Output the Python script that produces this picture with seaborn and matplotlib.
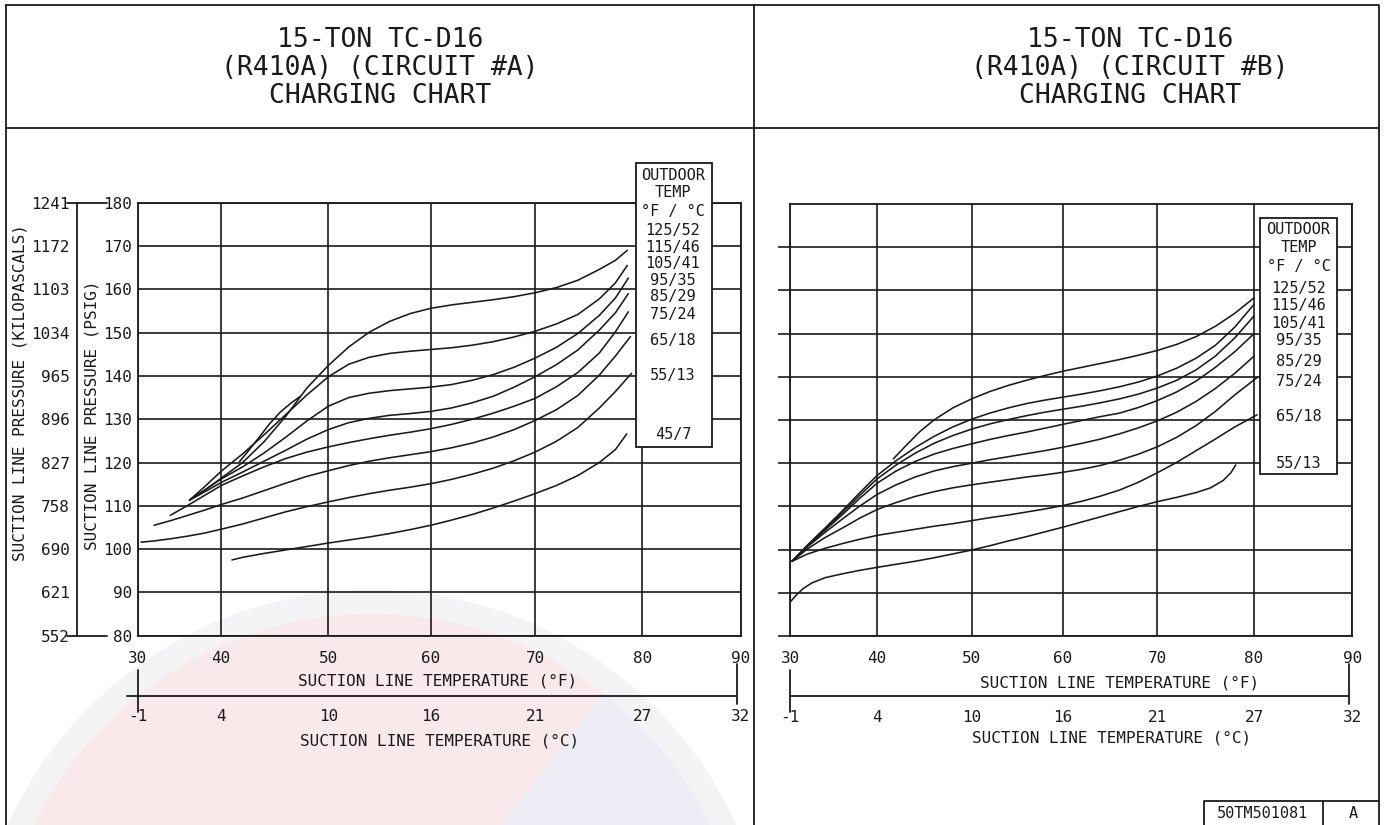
import numpy as np
import pandas as pd
import matplotlib
matplotlib.use("Agg")
import matplotlib.pyplot as plt
from matplotlib.patches import Rectangle, Ellipse, Wedge
from matplotlib.lines import Line2D
from matplotlib.transforms import IdentityTransform
import seaborn as sns

# ---------------- chart values ----------------
temp_f_ticks = [30, 40, 50, 60, 70, 80, 90]
temp_c_labels = ["-1", "4", "10", "16", "21", "27", "32"]
psig_ticks = [80, 90, 100, 110, 120, 130, 140, 150, 160, 170, 180]
kpa_labels = ["552", "621", "690", "758", "827", "896", "965",
              "1034", "1103", "1172", "1241"]

outdoor_a = ["125/52", "115/46", "105/41", "95/35", "85/29", "75/24",
             "65/18", "55/13", "45/7"]
outdoor_b = ["125/52", "115/46", "105/41", "95/35", "85/29", "75/24",
             "65/18", "55/13"]

# Circuit A curves (suction line temp F, suction pressure psig)
a_125_temp = [41.7, 42.5, 43.5, 44.5, 45.5, 46.5, 47.4]
a_125_psig = [120.2, 122.6, 125.7, 128.9, 131.6, 133.7, 135.3]
a_115_temp = [36.2, 38, 40, 42, 44, 46, 48, 50, 52, 54, 56, 58, 60, 62, 64, 66, 68, 70, 72, 74, 76, 77.5, 78.6]
a_115_psig = [111.3, 113.6, 116.4, 120.0, 124.8, 130.6, 137.2, 142.4, 146.7, 150.1, 152.6, 154.4,
              155.6, 156.4, 157.0, 157.6, 158.3, 159.2, 160.4, 162.1, 164.6, 166.7, 169.0]
a_105_temp = [36.2, 38, 40, 42, 44, 46, 48, 50, 52, 54, 56, 58, 60, 62, 64, 66, 68, 70, 72, 74, 76, 77.5, 78.6]
a_105_psig = [111.3, 114.4, 118.0, 122.0, 126.4, 131.0, 135.6, 139.8, 142.7, 144.3, 145.2, 145.7,
              146.1, 146.5, 147.1, 147.9, 149.0, 150.3, 152.0, 154.2, 157.8, 161.5, 165.5]
a_95_temp = [36.2, 38, 40, 42, 44, 46, 48, 50, 52, 54, 56, 58, 60, 62, 64, 66, 68, 70, 72, 74, 76, 77.5, 78.7]
a_95_psig = [111.3, 113.6, 116.2, 119.0, 122.2, 125.8, 129.6, 133.0, 135.0, 136.0, 136.6, 137.0,
             137.4, 138.0, 139.0, 140.3, 142.0, 144.1, 146.6, 149.8, 154.0, 158.0, 162.6]
a_85_temp = [36.2, 38, 40, 42, 44, 46, 48, 50, 52, 54, 56, 58, 60, 62, 64, 66, 68, 70, 72, 74, 76, 77.5, 78.7]
a_85_psig = [111.3, 113.2, 115.4, 117.8, 120.3, 122.8, 125.4, 127.6, 129.2, 130.2, 130.9, 131.3,
             131.8, 132.6, 133.8, 135.3, 137.4, 139.8, 142.6, 146.0, 150.6, 154.6, 159.0]
a_75_temp = [33.9, 36, 38, 40, 42, 44, 46, 48, 50, 52, 54, 56, 58, 60, 62, 64, 66, 68, 70, 72, 74, 76, 77.5, 78.7]
a_75_psig = [107.8, 110.1, 112.4, 114.7, 116.9, 119.0, 120.9, 122.4, 123.6, 124.6, 125.5, 126.3,
             127.0, 127.8, 128.8, 130.0, 131.4, 133.0, 134.8, 137.5, 140.8, 145.3, 150.2, 154.8]
a_65_temp = [31.95, 34, 36, 38, 40, 42, 44, 46, 48, 50, 52, 54, 56, 58, 60, 62, 64, 66, 68, 70, 72, 74, 76, 77.5, 78.9]
a_65_psig = [105.5, 106.6, 107.8, 109.0, 110.3, 111.8, 113.5, 115.2, 116.8, 118.1, 119.3, 120.3,
             121.1, 121.8, 122.5, 123.4, 124.5, 125.9, 127.6, 129.7, 132.2, 135.5, 140.2, 144.6, 149.1]
a_55_temp = [30.4, 32, 34, 36, 38, 40, 42, 44, 46, 48, 50, 52, 54, 56, 58, 60, 62, 64, 66, 68, 70, 72, 74, 76, 77.5, 79.0]
a_55_psig = [101.6, 101.9, 102.4, 103.0, 103.7, 104.6, 105.8, 107.2, 108.6, 109.8, 110.9, 111.9,
             112.8, 113.6, 114.3, 115.1, 116.1, 117.3, 118.7, 120.4, 122.4, 124.9, 128.1, 132.6,
             136.4, 140.6]
a_45_temp = [41.0, 42, 44, 46, 48, 50, 52, 54, 56, 58, 60, 62, 64, 66, 68, 70, 72, 74, 76, 77.5, 78.55]
a_45_psig = [97.5, 98.1, 99.0, 99.8, 100.6, 101.4, 102.1, 102.8, 103.6, 104.5, 105.5, 106.7, 108.0,
             109.5, 111.1, 112.8, 114.7, 117.0, 120.0, 123.0, 126.6]

# Circuit B curves
b_125_temp = [41.7, 43, 44.5, 46, 48, 50, 52, 54, 56, 58, 60, 62, 64, 66, 68, 70, 72, 74, 76, 78, 80.0]
b_125_psig = [121.0, 124.0, 127.3, 130.0, 132.8, 134.9, 136.6, 138.0, 139.2, 140.3, 141.3, 142.2,
              143.1, 144.0, 145.0, 146.1, 147.5, 149.3, 151.7, 154.7, 158.3]
b_115_temp = [30.2, 32, 34, 36, 38, 40, 42, 44, 46, 48, 50, 52, 54, 56, 58, 60, 62, 64, 66, 68, 70, 72, 74, 76, 78, 80.0]
b_115_psig = [97.3, 101.1, 105.0, 109.0, 113.2, 117.2, 120.6, 123.6, 126.2, 128.4, 130.2, 131.6,
              132.8, 133.8, 134.6, 135.3, 136.0, 136.8, 137.7, 138.8, 140.2, 142.0, 144.3, 147.3,
              151.5, 156.8]
b_105_temp = [30.2, 32, 34, 36, 38, 40, 42, 44, 46, 48, 50, 52, 54, 56, 58, 60, 62, 64, 66, 68, 70, 72, 74, 76, 78, 80.0]
b_105_psig = [97.3, 101.0, 104.8, 108.6, 112.6, 116.4, 119.6, 122.3, 124.6, 126.4, 127.9, 129.1,
              130.1, 131.0, 131.8, 132.5, 133.2, 134.0, 134.9, 136.0, 137.4, 139.2, 141.6, 144.8,
              149.0, 154.1]
b_95_temp = [30.2, 32, 34, 36, 38, 40, 42, 44, 46, 48, 50, 52, 54, 56, 58, 60, 62, 64, 66, 68, 70, 72, 74, 76, 78, 80.0]
b_95_psig = [97.3, 100.9, 104.5, 108.1, 111.9, 115.4, 118.2, 120.4, 122.1, 123.4, 124.5, 125.5,
             126.4, 127.2, 128.1, 129.0, 129.9, 130.8, 131.6, 132.9, 134.5, 136.5, 139.0, 142.2,
             145.8, 150.0]
b_85_temp = [30.2, 32, 34, 36, 38, 40, 42, 44, 46, 48, 50, 52, 54, 56, 58, 60, 62, 64, 66, 68, 70, 72, 74, 76, 78, 80.0]
b_85_psig = [97.3, 100.7, 104.0, 107.1, 110.1, 112.8, 115.0, 116.8, 118.2, 119.2, 120.0, 120.8,
             121.5, 122.2, 122.9, 123.7, 124.6, 125.6, 126.8, 128.2, 129.8, 131.8, 134.3, 137.3,
             140.8, 144.8]
b_75_temp = [30.2, 32, 34, 36, 38, 40, 42, 44, 46, 48, 50, 52, 54, 56, 58, 60, 62, 64, 66, 68, 70, 72, 74, 76, 78, 80.4]
b_75_psig = [97.3, 100.2, 102.8, 105.0, 107.3, 109.3, 110.9, 112.3, 113.4, 114.3, 115.0, 115.6,
             116.2, 116.8, 117.3, 117.9, 118.6, 119.5, 120.7, 122.1, 123.8, 126.0, 128.7, 132.0,
             135.8, 140.0]
b_65_temp = [30.2, 32, 34, 36, 38, 40, 42, 44, 46, 48, 50, 52, 54, 56, 58, 60, 62, 64, 66, 68, 70, 72, 74, 76, 78, 80.3]
b_65_psig = [97.3, 99.0, 100.3, 101.4, 102.4, 103.3, 104.0, 104.7, 105.4, 106.0, 106.7, 107.4,
             108.0, 108.7, 109.4, 110.2, 111.2, 112.4, 113.8, 115.6, 117.8, 120.2, 122.9, 125.6,
             128.4, 131.2]
b_55_temp = [30.0, 30.7, 31.5, 32.5, 34, 36, 38, 40, 42, 44, 46, 48, 50, 52, 54, 56, 58, 60, 62, 64,
             66, 68, 70, 72, 74, 75.5, 76.8, 77.6, 78.1]
b_55_psig = [87.9, 89.5, 91.0, 92.3, 93.5, 94.4, 95.2, 95.9, 96.6, 97.3, 98.1, 99.0, 99.9, 100.9,
             102.0, 103.0, 104.1, 105.2, 106.4, 107.6, 108.8, 110.0, 111.1, 112.1, 113.2, 114.3,
             116.0, 117.8, 119.6]

curves_a = {
    "125/52": (a_125_temp, a_125_psig),
    "115/46": (a_115_temp, a_115_psig), "105/41": (a_105_temp, a_105_psig),
    "95/35": (a_95_temp, a_95_psig), "85/29": (a_85_temp, a_85_psig),
    "75/24": (a_75_temp, a_75_psig), "65/18": (a_65_temp, a_65_psig),
    "55/13": (a_55_temp, a_55_psig), "45/7": (a_45_temp, a_45_psig),
}
curves_b = {
    "125/52": (b_125_temp, b_125_psig), "115/46": (b_115_temp, b_115_psig),
    "105/41": (b_105_temp, b_105_psig), "95/35": (b_95_temp, b_95_psig),
    "85/29": (b_85_temp, b_85_psig), "75/24": (b_75_temp, b_75_psig),
    "65/18": (b_65_temp, b_65_psig), "55/13": (b_55_temp, b_55_psig),
}


def to_frame(curves):
    rows = [(name, t, p) for name, (ts, ps) in curves.items() for t, p in zip(ts, ps)]
    return pd.DataFrame(rows, columns=["outdoor", "temp", "psig"])


# ---------------- layout ----------------
W, H = 1389, 825
INK = "#1a1a1a"
MONO = ["DejaVu Sans Mono"]

sns.set_theme(style="white")
plt.rcParams["font.family"] = MONO
plt.rcParams["text.color"] = INK
plt.rcParams["xtick.color"] = INK
plt.rcParams["ytick.color"] = INK

fig = plt.figure(figsize=(W / 100, H / 100), dpi=100)
fig.patch.set_facecolor("white")


def P(x, y):
    """pixel position (origin top-left) -> figure fraction"""
    return x / W, 1 - y / H


def fig_line(xs, ys, lw=1.3, z=6):
    fx = [x / W for x in xs]
    fy = [1 - y / H for y in ys]
    fig.add_artist(Line2D(fx, fy, transform=fig.transFigure, color=INK, lw=lw, zorder=z))


# faint background logo
cx, cy, r = 372, 990, 400
fig.add_artist(Ellipse(P(cx, cy), 2 * r / W, 2 * r / H, transform=fig.transFigure,
                       facecolor="#f4f4f6", edgecolor="none", zorder=-3))
fig.add_artist(Ellipse(P(cx, cy), 2 * (r - 24) / W, 2 * (r - 24) / H, transform=fig.transFigure,
                       facecolor="#fae9ea", edgecolor="none", zorder=-2))
lav = Wedge((cx, H - cy), r - 24, -80, 52, facecolor="#eeedf5", edgecolor="none", zorder=-1)
lav.set_transform(IdentityTransform())
fig.add_artist(lav)

# drawing frame
fig_line([6, 1379, 1379], [5, 5, 830])
fig_line([6, 6], [5, 830])
fig_line([6, 1379], [128, 128])
fig_line([754, 754], [5, 830])
fig_line([1204, 1204, 1379], [830, 801, 801])
fig_line([1323, 1323], [801, 830])
fig.text(*P(1263, 813), "50TM501081", ha="center", va="center", fontsize=11)
fig.text(*P(1353, 813), "A", ha="center", va="center", fontsize=11)

# titles
for cxp, circ in ((380, "A"), (1130, "B")):
    for yy, txt in ((40, "15-TON TC-D16"), (68, f"(R410A) (CIRCUIT #{circ})"),
                    (96, "CHARGING CHART")):
        fig.text(*P(cxp, yy), txt, ha="center", va="center", fontsize=19)

# grid positions of the printed temperature scale (fraction of axis width)
grid_a = [0.0, 0.1386, 0.3161, 0.4859, 0.6589, 0.8368, 1.0]
grid_b = [0.0, 0.1548, 0.3228, 0.4853, 0.6532, 0.8253, 1.0]


def scale_funcs(frac):
    pos = 30 + 60 * np.asarray(frac)
    ticks = np.asarray(temp_f_ticks, dtype=float)
    return (lambda x: np.interp(x, ticks, pos), lambda y: np.interp(y, pos, ticks))


ax_a = fig.add_axes([137.7 / W, 1 - 635.7 / H, 603 / W, 433 / H])
ax_b = fig.add_axes([790.3 / W, 1 - 636 / H, 562 / W, 432 / H])

for ax, curves, grid in ((ax_a, curves_a, grid_a), (ax_b, curves_b, grid_b)):
    ax.patch.set_visible(False)
    sns.lineplot(data=to_frame(curves), x="temp", y="psig", units="outdoor",
                 estimator=None, sort=False, color=INK, linewidth=1.15, ax=ax,
                 legend=False)
    ax.set_xscale("function", functions=scale_funcs(grid))
    ax.set_xlim(30, 90)
    ax.set_ylim(80, 180)
    ax.set_xticks(temp_f_ticks, labels=[str(t) for t in temp_f_ticks])
    ax.tick_params(axis="x", length=0, pad=11, labelsize=11.5)
    ax.grid(True, color=INK, lw=1.2)
    for s in ax.spines.values():
        s.set_visible(True)
        s.set_color(INK)
        s.set_linewidth(1.3)
    ax.set_xlabel("")
    ax.set_ylabel("")
    # Celsius scale below
    hgt = ax.get_position().height * H
    yl = lambda ypix: -(ypix - 636) / hgt
    ax.plot([-0.018 if ax is ax_a else 0.0, 0.994], [yl(696), yl(696)], transform=ax.transAxes,
            clip_on=False, color=INK, lw=1.3)
    ax.plot([0, 0], [yl(670), yl(712)], transform=ax.transAxes, clip_on=False, color=INK, lw=1.3)
    ax.plot([0.994, 0.994], [yl(664), yl(704)], transform=ax.transAxes, clip_on=False,
            color=INK, lw=1.3)
    for f, c in zip(temp_f_ticks, temp_c_labels):
        ax.text(f, yl(717), c, transform=ax.get_xaxis_transform(), ha="center",
                va="center", fontsize=11.5)

# axis titles
ax_a.text(0.498, -(681 - 636) / 433, "SUCTION LINE TEMPERATURE (°F)", transform=ax_a.transAxes,
          ha="center", va="center", fontsize=11.5)
ax_a.text(0.501, -(741 - 636) / 433, "SUCTION LINE TEMPERATURE (°C)", transform=ax_a.transAxes,
          ha="center", va="center", fontsize=11.5)
ax_b.text(0.5867, -(683 - 636) / 432, "SUCTION LINE TEMPERATURE (°F)", transform=ax_b.transAxes,
          ha="center", va="center", fontsize=11.5)
ax_b.text(0.5724, -(738 - 636) / 432, "SUCTION LINE TEMPERATURE (°C)", transform=ax_b.transAxes,
          ha="center", va="center", fontsize=11.5)

# pressure scales, circuit A
ax_a.set_yticks(psig_ticks, labels=[str(p) for p in psig_ticks])
ax_a.tick_params(axis="y", length=0, pad=4, labelsize=11.5)
kpa = ax_a.secondary_yaxis(-(137.7 - 76.7) / 603,
                           functions=(lambda p: p * 6.894757, lambda k: k / 6.894757))
kpa.set_yticks([p * 6.894757 for p in psig_ticks], labels=kpa_labels)
kpa.tick_params(length=0, pad=5, labelsize=11.5)
kpa.spines["left"].set_linewidth(1.3)
kpa.spines["left"].set_color(INK)
for p in (80, 180):
    ax_a.plot([-(137.7 - 67) / 603, -(137.7 - 107) / 603], [p, p],
              transform=ax_a.get_yaxis_transform(), clip_on=False, color=INK, lw=1.3)
fig.text(*P(20, 393), "SUCTION LINE PRESSURE (KILOPASCALS)", rotation=90, ha="center",
         va="center", fontsize=11.5)
fig.text(*P(92, 415), "SUCTION LINE PRESSURE (PSIG)", rotation=90, ha="center",
         va="center", fontsize=11.5)

# pressure ticks, circuit B (gridlines run past the left edge)
ax_b.set_yticks(psig_ticks[:-1], labels=[""] * (len(psig_ticks) - 1))
ax_b.tick_params(axis="y", length=8.7, width=1.2, direction="out", color=INK, left=True)


# outdoor temperature keys
def key_box(x0, y0, x1, y1, cxp, rows):
    fig.add_artist(Rectangle(P(x0, y1), (x1 - x0) / W, (y1 - y0) / H, transform=fig.transFigure,
                             facecolor="white", edgecolor=INK, lw=1.3, zorder=8))
    for yy, txt in rows:
        fig.text(*P(cxp, yy), txt, ha="center", va="center", fontsize=11, zorder=9)


head = ["OUTDOOR", "TEMP", "°F / °C"]
key_box(635.7, 163.3, 712.3, 447.3, 673,
        list(zip([175, 192.5, 211.5], head)) +
        list(zip([230, 247.5, 263.5, 280, 297, 314, 340, 375.5, 435], outdoor_a)))
key_box(1260.3, 218.3, 1337.3, 474, 1298.5,
        list(zip([229.5, 247.5, 266.5], head)) +
        list(zip([288.5, 305.5, 323, 340, 361.5, 381.5, 416.5, 463.3], outdoor_b)))

fig.savefig("out.png", dpi=100)
